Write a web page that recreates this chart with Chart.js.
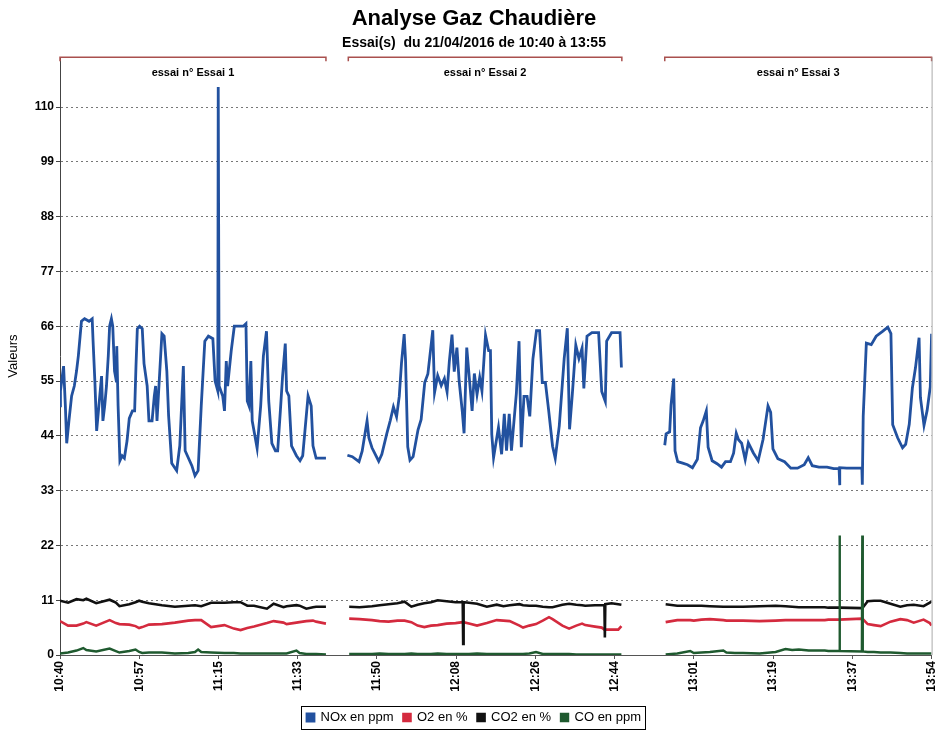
<!DOCTYPE html>
<html>
<head>
<meta charset="utf-8">
<script src="https://cdn.jsdelivr.net/npm/chart.js@4.4.0/dist/chart.umd.min.js"></script>
<style>
  html, body { margin: 0; padding: 0; background: #fff; }
  #wrap { width: 948px; height: 738px; }
</style>
</head>
<body>
<div id="wrap"><canvas id="chartCanvas" width="948" height="738"></canvas></div>
<script>
// temps en minutes depuis 10:40
const xMax = 195;
const xTickLabels = ['10:40', '10:57', '11:15', '11:33', '11:50', '12:08', '12:26', '12:44', '13:01', '13:19', '13:37', '13:54'];
const yTickValues = [0, 11, 22, 33, 44, 55, 66, 77, 88, 99, 110];

const essaiLabels = ['essai n° Essai 1', 'essai n° Essai 2', 'essai n° Essai 3'];
const essaiStart = [0, 64.5, 135.3];
const essaiEnd = [59.5, 125.7, 195];

// NOx en ppm
const noxTimes = [
  0, 0.1, 0.8, 1.2, 1.5, 2.0, 2.6, 3.2, 3.7, 4.1, 4.5, 4.8, 5.5, 6.5, 7.2, 7.4, 7.8, 8.2, 8.7, 9.3,
  9.6, 10.0, 10.4, 10.8, 11.1, 11.5, 11.8, 12.2, 12.6, 12.7, 13.0, 13.4, 13.9, 14.4, 15.0, 15.5, 16.2, 16.7, 17.0, 17.3,
  17.8, 18.4, 18.8, 19.5, 19.9, 20.6, 21.1, 21.4, 21.7, 22.2, 22.8, 23.3, 23.9, 24.3, 25.0, 26.1, 26.8, 27.6, 28.0, 29.5,
  30.2, 30.9, 31.6, 32.4, 33.2, 34.2, 34.7, 35.0, 35.3, 35.4, 35.6, 36.4, 36.8, 37.2, 37.5, 38.3, 39.0, 40.0, 41.0, 41.6,
  41.9, 42.3, 42.7, 43.0, 43.8, 44.1, 44.9, 45.5, 46.2, 46.7, 47.4, 48.2, 48.7, 49.3, 49.8, 50.4, 50.7, 51.2, 51.8, 52.9,
  53.7, 54.3, 54.8, 55.5, 56.2, 56.6, 57.3, 58.8, 59.5,
  62,
  64.3, 65.4, 66.9, 67.6, 68.7, 69.1, 69.8, 71.3, 72.0, 73.1, 73.9, 74.6, 75.3, 75.9, 76.4, 77.0, 77.3, 77.8, 78.3, 79.0,
  80.1, 80.8, 81.6, 82.3, 83.4, 83.8, 84.5, 85.3, 86.0, 86.6, 87.1, 87.7, 88.2, 88.8, 89.3, 90.0, 90.4, 91.0, 91.7, 92.2,
  92.7, 93.3, 93.9, 94.4, 95.2, 95.9, 96.3, 96.6, 97.0, 98.1, 98.8, 99.4, 99.9, 100.5, 101.0, 102.1, 102.7, 103.2, 103.8, 104.5,
  105.1, 105.8, 106.6, 107.3, 107.9, 108.6, 109.3, 110.2, 110.8, 111.7, 112.8, 113.5, 114.0, 114.6, 115.4, 116.1, 116.8, 117.2, 117.9, 119.0,
  120.5, 121.2, 122.0, 122.3, 123.4, 125.3, 125.6,
  130,
  135.3, 135.6, 136.4, 136.7, 137.3, 137.6, 138.2, 139.3, 140.4, 141.5, 142.6, 143.3, 143.9, 144.6, 145.0, 145.9, 147.0, 148.0, 148.9, 150.0,
  150.7, 151.3, 151.8, 152.5, 153.3, 154.0, 155.1, 156.2, 157.3, 158.4, 159.0, 159.5, 160.6, 162.1, 163.5, 165.0, 166.5, 167.4, 168.3, 169.8,
  171.6, 173.1, 174.3, 174.4, 174.5, 176.0, 178.2, 179.4, 179.5, 179.7, 180.4, 181.5, 182.6, 184.1, 185.2, 185.9, 186.3, 187.4, 188.5, 189.2,
  190.0, 190.7, 191.4, 192.2, 192.5, 193.3, 194.0, 194.7, 195.0
];
const noxValues = [
  50, 53, 58, 50, 42.5, 47, 52, 54, 57, 60, 64, 67, 67.5, 67, 67.5, 63, 55, 45, 50, 56,
  47, 50, 54, 60, 66, 67.5, 66, 57, 55, 62, 50, 39, 40, 39.5, 43, 47.5, 49, 49, 58, 65.5,
  66, 65.5, 58.5, 54, 47, 47, 52, 54, 47, 55, 64.5, 64, 57, 48, 38.5, 37, 42, 58, 41, 38,
  36, 37, 50, 63, 64, 63.5, 55, 54, 53, 114, 54, 52, 49, 59, 54, 61, 66, 66, 66, 66.5,
  51, 50, 59, 47, 43, 41.5, 50, 60, 65, 51, 42.5, 41, 41, 49, 56, 62.5, 53, 52, 42, 40,
  39, 40, 45, 52, 50, 42, 39.5, 39.5, 39.5,
  null,
  40.1, 39.8, 38.8, 40.9, 47.0, 43.6, 41.6, 38.9, 40.3, 44.4, 47.1, 49.8, 47.8, 51.9, 58.6, 64.4, 59.3, 41.8, 39.1, 39.8,
  45.2, 47.3, 54.7, 56.4, 65.2, 52.7, 56.1, 54.1, 55.5, 52.8, 58.9, 64.3, 56.9, 61.7, 55.0, 48.9, 44.5, 61.7, 54.3, 49.0,
  56.5, 52.3, 55.7, 53.0, 64.2, 61.1, 61.1, 44.3, 39.6, 45.7, 40.3, 48.4, 41.0, 48.4, 41.0, 52.5, 63.0, 41.7, 51.9, 51.9,
  47.9, 59.4, 65.1, 65.1, 54.7, 54.7, 49.3, 41.9, 39.5, 46.0, 59.5, 65.6, 45.3, 52.1, 62.2, 59.5, 61.6, 53.5, 64.0, 64.7,
  64.7, 52.9, 50.9, 63.0, 64.7, 64.7, 57.7,
  null,
  42.1, 44.4, 44.8, 50.1, 55.5, 41.0, 38.8, 38.5, 38.2, 37.6, 39.3, 45.6, 47.0, 49.0, 41.7, 39.0, 38.4, 37.7, 38.8, 38.8,
  40.5, 44.5, 43.2, 42.5, 39.2, 42.6, 40.6, 39.0, 43.3, 50.0, 48.7, 41.4, 39.4, 38.8, 37.5, 37.5, 38.2, 39.6, 38.0, 37.7,
  37.7, 37.4, 37.4, 34.1, 37.6, 37.5, 37.5, 37.5, 34.2, 47.9, 62.6, 62.3, 64.0, 65.0, 65.8, 64.5, 46.2, 43.6, 41.6, 42.3,
  46.3, 53.6, 57.7, 63.7, 51.7, 46.1, 49.1, 53.8, 64.5
];

// O2 / CO2 / CO : meme base de temps
const lowTimes = [
  0, 1.8, 3.7, 5.2, 5.9, 8.1, 11.1, 12.5, 13.3, 15.5, 16.9, 17.7, 18.4, 19.9, 22.8, 25.7, 28.7, 30.2, 30.9, 31.6,
  33.8, 36.8, 38.9, 40.4, 41.9, 43.4, 46.3, 47.8, 50.0, 50.7, 52.9, 53.6, 55.1, 56.6, 57.3, 59.5,
  62,
  64.7, 67.0, 69.8, 71.5, 73.5, 75.5, 77.1, 78.6, 80.0, 81.5, 83.0, 84.5, 86.5, 88.5, 90.1, 90.2, 90.3, 91.5, 93.3, 95.5,
  97.7, 99.2, 100.6, 102.8, 103.6, 105.0, 106.5, 108.0, 109.4, 110.2, 112.4, 113.9, 115.5, 116.8, 117.5, 119.7, 121.2, 121.8, 121.9, 122.0,
  123.4, 124.9, 125.6,
  130,
  135.5, 138.1, 141.0, 141.8, 143.5, 145.4, 148.4, 149.1, 151.0, 152.8, 156.5, 160.1, 162.3, 163.8, 165.3, 167.5, 171.1, 171.9, 174.3, 174.4,
  174.5, 179.4, 179.5, 179.6, 180.7, 182.1, 183.6, 185.8, 188.0, 189.5, 191.0, 193.2, 194.6, 195.0
];
const co2Values = [
  10.9, 10.5, 11.2, 11.0, 11.3, 10.4, 11.1, 10.5, 9.8, 10.2, 10.6, 10.9, 10.7, 10.4, 10.0, 9.7, 9.9, 10.0, 9.9, 9.8,
  10.5, 10.5, 10.6, 10.6, 9.9, 9.9, 9.3, 10.3, 9.6, 9.8, 10.0, 9.9, 9.3, 9.6, 9.7, 9.7,
  null,
  9.7, 9.6, 9.8, 10.0, 10.2, 10.4, 10.7, 9.7, 10.1, 10.4, 10.6, 11.0, 10.8, 10.6, 10.6, 2.2, 10.6, 10.5, 10.3, 9.7,
  10.1, 9.8, 10.0, 10.2, 10.0, 9.9, 9.9, 9.7, 9.6, 9.6, 10.1, 10.3, 10.1, 10.0, 9.9, 10.0, 10.0, 10.0, 3.5, 10.2,
  10.4, 10.2, 10.1,
  null,
  10.2, 9.9, 9.9, 9.9, 9.9, 9.8, 9.7, 9.7, 9.7, 9.7, 9.8, 9.9, 9.8, 9.7, 9.6, 9.6, 9.6, 9.5, 9.5, 9.5,
  9.5, 9.4, 9.4, 9.4, 10.8, 10.9, 10.9, 10.3, 9.7, 10.0, 10.1, 9.8, 10.5, 10.8
];
const o2Values = [
  6.8, 5.9, 5.9, 6.3, 6.6, 5.9, 7.0, 6.4, 6.2, 6.1, 5.8, 5.4, 5.6, 6.1, 6.2, 6.5, 6.9, 7.0, 7.0, 7.0,
  5.6, 6.0, 5.3, 5.0, 5.4, 5.7, 6.4, 6.8, 6.5, 6.2, 6.5, 6.6, 6.8, 6.9, 6.7, 6.3,
  null,
  7.3, 7.2, 7.0, 6.8, 6.7, 6.9, 6.9, 6.6, 5.9, 5.6, 5.9, 6.0, 6.3, 6.4, 6.6, 6.6, 6.6, 6.3, 5.9, 6.4,
  7.0, 6.9, 6.8, 5.9, 5.5, 5.9, 6.2, 6.9, 7.6, 7.2, 5.9, 5.3, 5.9, 6.3, 6.0, 5.7, 5.5, 5.1, 5.1, 5.1,
  5.1, 5.1, 5.8,
  null,
  6.6, 7.0, 7.0, 6.9, 7.1, 7.2, 7.0, 6.9, 6.9, 6.9, 6.8, 6.9, 7.0, 7.0, 7.0, 7.0, 7.0, 7.1, 7.1, 7.1,
  7.1, 7.3, 7.3, 7.3, 6.2, 6.0, 5.8, 6.7, 7.2, 7.0, 6.5, 7.1, 6.4, 5.9
];
const coValues = [
  0.3, 0.5, 0.9, 1.4, 1.0, 0.7, 1.3, 0.8, 0.5, 0.8, 1.1, 0.6, 0.4, 0.5, 0.5, 0.3, 0.4, 0.6, 1.1, 0.6,
  0.5, 0.4, 0.4, 0.3, 0.3, 0.3, 0.3, 0.3, 0.3, 0.3, 0.9, 0.4, 0.2, 0.2, 0.2, 0.1,
  null,
  0.2, 0.2, 0.2, 0.3, 0.2, 0.2, 0.2, 0.3, 0.2, 0.2, 0.2, 0.3, 0.2, 0.2, 0.2, 0.2, 0.2, 0.2, 0.3, 0.2,
  0.2, 0.2, 0.2, 0.2, 0.2, 0.3, 0.6, 0.2, 0.2, 0.2, 0.2, 0.2, 0.1, 0.1, 0.1, 0.1, 0.1, 0.1, 0.1, 0.1,
  0.1, 0.1, 0.1,
  null,
  0.1, 0.3, 0.8, 0.4, 0.5, 0.6, 0.9, 0.5, 0.4, 0.4, 0.3, 0.6, 1.2, 1.0, 1.1, 0.9, 0.9, 0.8, 0.8, 24,
  0.8, 0.7, 24, 0.7, 0.6, 0.6, 0.5, 0.5, 0.4, 0.3, 0.3, 0.3, 0.3, 0.3
];

const FONT = '"Liberation Sans", Arial, sans-serif';

function pts(times, vals) {
  return times.map((t, i) => ({ x: t, y: vals[i] }));
}

// bandeaux "essai" en haut + cadre de legende
const essaiPlugin = {
  id: 'essais',
  afterDraw(chart) {
    const ctx = chart.ctx;
    const xs = chart.scales.x;
    const area = chart.chartArea;
    ctx.save();
    essaiLabels.forEach((lab, i) => {
      const x1 = xs.getPixelForValue(essaiStart[i]);
      const x2 = xs.getPixelForValue(essaiEnd[i]);
      const y = area.top;
      ctx.strokeStyle = '#a9504e';
      ctx.lineWidth = 1.5;
      ctx.beginPath();
      ctx.moveTo(x1, y + 4); ctx.lineTo(x1, y); ctx.lineTo(x2, y); ctx.lineTo(x2, y + 4);
      ctx.stroke();
      ctx.fillStyle = '#000';
      ctx.font = 'bold 11px ' + FONT;
      ctx.textAlign = 'center';
      ctx.textBaseline = 'middle';
      ctx.fillText(lab, (x1 + x2) / 2, y + 16);
    });
    // bord droit
    ctx.strokeStyle = '#aaa';
    ctx.lineWidth = 1;
    ctx.beginPath();
    ctx.moveTo(area.right + 0.5, area.top);
    ctx.lineTo(area.right + 0.5, area.bottom);
    ctx.stroke();
    // cadre legende
    const hb = chart.legend.legendHitBoxes;
    if (hb && hb.length) {
      const l = Math.min(...hb.map(b => b.left)) - 6;
      const r = Math.max(...hb.map(b => b.left + b.width)) + 4;
      const t = Math.min(...hb.map(b => b.top)) - 5;
      const b2 = Math.max(...hb.map(b => b.top + b.height)) + 5;
      ctx.strokeStyle = '#000';
      ctx.lineWidth = 1;
      ctx.strokeRect(Math.round(l) + 0.5, Math.round(t) + 0.5, Math.round(r - l), Math.round(b2 - t));
    }
    ctx.restore();
  }
};

Chart.defaults.color = '#000';
Chart.defaults.font.family = FONT;

new Chart(document.getElementById('chartCanvas'), {
  type: 'line',
  data: {
    datasets: [
      { label: 'NOx en ppm', data: pts(noxTimes, noxValues), borderColor: '#22519f', backgroundColor: '#22519f', borderWidth: 2.8, order: 4 },
      { label: 'O2 en %', data: pts(lowTimes, o2Values), borderColor: '#d42a3e', backgroundColor: '#d42a3e', borderWidth: 2.6, order: 3 },
      { label: 'CO2 en %', data: pts(lowTimes, co2Values), borderColor: '#111111', backgroundColor: '#111111', borderWidth: 2.6, order: 2 },
      { label: 'CO en ppm', data: pts(lowTimes, coValues), borderColor: '#1f5a2f', backgroundColor: '#1f5a2f', borderWidth: 2.4, order: 1 }
    ]
  },
  options: {
    responsive: false,
    animation: false,
    spanGaps: false,
    elements: { point: { radius: 0 }, line: { tension: 0 } },
    layout: { padding: { left: 6, right: 6, top: 6, bottom: 4 } },
    plugins: {
      title: {
        display: true,
        text: 'Analyse Gaz Chaudière',
        font: { size: 22, weight: 'bold' },
        padding: { top: 0, bottom: 2 }
      },
      subtitle: {
        display: true,
        text: 'Essai(s)  du 21/04/2016 de 10:40 à 13:55',
        font: { size: 14, weight: 'bold' },
        padding: { top: 0, bottom: 6 }
      },
      legend: {
        position: 'bottom',
        labels: {
          boxWidth: 7, boxHeight: 7, padding: 10, font: { size: 13 },
          sort: (a, b) => a.datasetIndex - b.datasetIndex
        }
      },
      tooltip: { enabled: false }
    },
    scales: {
      x: {
        type: 'linear',
        min: 0,
        max: xMax,
        afterBuildTicks: axis => {
          axis.ticks = xTickLabels.map((l, i) => ({ value: i * xMax / (xTickLabels.length - 1) }));
        },
        afterFit: scale => { scale.height = 46; },
        ticks: {
          autoSkip: false,
          minRotation: 90,
          maxRotation: 90,
          padding: 2,
          font: { size: 12, weight: 'bold' },
          callback: (v, i) => xTickLabels[i]
        },
        grid: { drawOnChartArea: false, drawTicks: true, tickLength: 4, color: '#555' },
        border: { display: true, color: '#555', width: 1 }
      },
      y: {
        min: 0,
        max: 120,
        afterBuildTicks: axis => {
          axis.ticks = yTickValues.map(v => ({ value: v }));
        },
        afterFit: scale => { scale.width = 54; },
        title: { display: true, text: 'Valeurs', font: { size: 13 }, padding: { top: 0, bottom: 4 } },
        ticks: { padding: 2, font: { size: 12, weight: 'bold' } },
        grid: { color: '#777', lineWidth: 1, tickLength: 4, tickBorderDash: [], tickColor: '#444' },
        border: { display: true, color: '#444', width: 1, dash: [2, 3] }
      }
    }
  },
  plugins: [essaiPlugin]
});
</script>
</body>
</html>
